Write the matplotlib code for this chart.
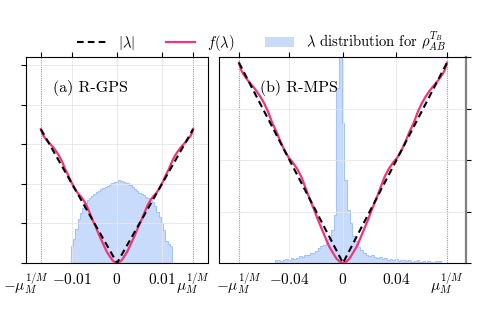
import numpy as np
import matplotlib
matplotlib.use("Agg")
import matplotlib.pyplot as plt
from matplotlib.lines import Line2D
from matplotlib.patches import Patch
from matplotlib.transforms import ScaledTranslation

plt.rcParams["font.family"] = "serif"
plt.rcParams["font.serif"] = ["cmr10", "DejaVu Serif"]
plt.rcParams["mathtext.fontset"] = "cm"
plt.rcParams["axes.unicode_minus"] = True

# normalised shape of f(lambda) (t = lambda / mu, value / mu), even function
t_shape = [0.0, 0.03, 0.06, 0.09, 0.13, 0.16, 0.20, 0.24, 0.28, 0.32, 0.36,
           0.40, 0.44, 0.48, 0.52, 0.56, 0.60, 0.64, 0.68, 0.72, 0.76, 0.80,
           0.84, 0.88, 0.92, 0.96, 0.98, 1.0]
f_shape = [0.0, 0.006, 0.02, 0.045, 0.08, 0.115, 0.165, 0.215, 0.27, 0.32, 0.375,
           0.43, 0.47, 0.50, 0.525, 0.56, 0.605, 0.655, 0.70, 0.755, 0.80, 0.835,
           0.865, 0.89, 0.915, 0.945, 0.965, 1.0]

# panel (a) R-GPS
mu_a = 0.0169
hist_a_lo, hist_a_w = -0.01025, 0.0005
hist_a = [17, 24, 34, 44, 50, 55, 60, 63, 65, 67, 69, 71, 72, 74, 75, 76, 77, 78,
          80, 81, 81, 83, 82, 81, 80, 80, 78, 76, 74, 72, 70, 69, 68, 66, 65, 63,
          61, 57, 51, 46, 40, 33, 22, 19, 17]
xt_a = [-0.01, 0, 0.01]
xl_a = ["$-0.01$", "$0$", "$0.01$"]

# panel (b) R-MPS
mu_b = 0.0778
hist_b_lo, hist_b_w = -0.051, 0.002
hist_b = [3, 3, 2, 3, 4, 3, 5, 4, 5, 7, 6, 8, 8, 10, 10, 12, 15, 17, 18, 23, 24,
          33, 48, 175, 240, 140, 83, 53, 40, 27, 22, 16, 13, 10, 8, 7, 8, 6, 5,
          6, 4, 5, 3, 4, 3, 4, 2, 3, 3, 2, 3, 1, 2, 3, 1, 2, 0, 2, 1, 0, 2, 2]
xt_b = [-0.04, 0, 0.04]
xl_b = ["$-0.04$", "$0$", "$0.04$"]

pink = "#f2357a"
blue_face = "#c9dbfb"
blue_edge = "#a6c4f5"

fig = plt.figure(figsize=(4.98, 3.13), dpi=100)
ax_a = fig.add_axes([26 / 498, 50 / 313, 182 / 498, 206 / 313])
ax_b = fig.add_axes([219 / 498, 50 / 313, 247 / 498, 206 / 313])


def draw_panel(ax, mu, hist_lo, hist_w, counts, xt, xl, xlim, ylim, ystep, label, tx):
    tw = ax.twinx()
    edges = hist_lo + hist_w * np.arange(len(counts) + 1)
    tw.stairs(counts, edges, fill=True, facecolor=blue_face, edgecolor="none", zorder=1)
    tw.stairs(counts, edges, fill=False, edgecolor=blue_edge, linewidth=0.8, zorder=2)
    tw.set_ylim(0, 206)
    tw.set_yticks([])
    for s in tw.spines.values():
        s.set_visible(False)
    ax.set_zorder(tw.get_zorder() + 1)
    ax.patch.set_visible(False)

    t = np.array(t_shape)
    f = np.array(f_shape)
    lam = np.concatenate([-t[::-1], t[1:]]) * mu
    fv = np.concatenate([f[::-1], f[1:]]) * mu
    ax.plot([-mu, 0, mu], [mu, 0, mu], color="black", linestyle=(0, (3.2, 2.0)),
            linewidth=1.5, zorder=4)
    ax.plot(lam, fv, color=pink, linewidth=1.6, zorder=3)

    ax.set_xlim(*xlim)
    ax.set_ylim(*ylim)
    ticks = [-mu] + xt + [mu]
    labels = [r"$-\mu_M^{1/M}$"] + xl + [r"$\mu_M^{1/M}$"]
    ax.set_xticks(ticks)
    ax.set_xticklabels(labels, fontsize=11)
    for v in xt:
        ax.axvline(v, color="#e6e6e6", linewidth=0.6, zorder=0)
    for v in (-mu, mu):
        ax.axvline(v, color="#9a9a9a", linewidth=0.8, linestyle=(0, (1, 1)), zorder=0)
    ax.set_yticks(np.arange(0, ylim[1] + 1e-9, ystep))
    ax.set_yticklabels([])
    ax.yaxis.grid(True, color="#e6e6e6", linewidth=0.6)
    ax.set_axisbelow(True)
    ax.tick_params(axis="x", top=True, bottom=False, labelbottom=True,
                   direction="out", length=3.5, width=0.8, pad=3)
    ax.tick_params(axis="y", direction="out", length=3.5, width=0.8)
    ax.text(tx, 0.85, label, transform=ax.transAxes, fontsize=11.5,
            va="center", ha="left")
    return tw


draw_panel(ax_a, mu_a, hist_a_lo, hist_a_w, hist_a, xt_a, xl_a,
           (-0.0202, 0.0202), (0, 0.026), 0.005, "(a) R-GPS", 0.15)
draw_panel(ax_b, mu_b, hist_b_lo, hist_b_w, hist_b, xt_b, xl_b,
           (-0.0927, 0.0920), (0, 0.08), 0.02, "(b) R-MPS", 0.165)

# shift the left label of panel (a) so it clears -0.01
first = ax_a.get_xticklabels()[0]
first.set_transform(first.get_transform()
                    + ScaledTranslation(-15 / 100, 0, fig.dpi_scale_trans))

ax_b.tick_params(axis="y", left=False, right=True)
ax_b.spines["right"].set_color("#808080")
ax_b.spines["right"].set_linewidth(1.6)

handles = [
    Line2D([0], [0], color="black", linestyle=(0, (3.2, 2.0)), linewidth=1.5),
    Line2D([0], [0], color=pink, linewidth=1.6),
    Patch(facecolor=blue_face, edgecolor="none"),
]
names = [r"$|\lambda|$", r"$f(\lambda)$",
         r"$\lambda$ distribution for $\rho_{AB}^{T_B}$"]
fig.legend(handles, names, loc="center", bbox_to_anchor=(0.525, 0.868), ncol=3,
           frameon=False, fontsize=10.5, handlelength=2.0, handletextpad=0.8,
           columnspacing=2.1)

fig.savefig("out.png", dpi=100)
